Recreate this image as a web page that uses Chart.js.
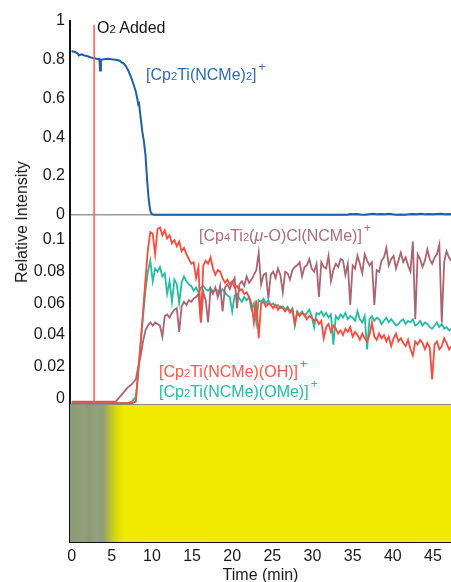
<!DOCTYPE html>
<html>
<head>
<meta charset="utf-8">
<script src="https://cdn.jsdelivr.net/npm/chart.js@4"></script>
<style>
  html, body { margin: 0; padding: 0; background: #fff; }
  #wrap { position: relative; width: 451px; height: 582px; overflow: hidden; font-family: Arial, "Liberation Sans", sans-serif; }
  #chart { position: absolute; left: 0; top: 0; }
  .lbl { position: absolute; white-space: nowrap; font-size: 16px; line-height: 16px; }
  .lbl .s { font-size: 0.7em; }
  .lbl .p { font-size: 0.75em; position: relative; top: -0.75em; margin-left: 2px; }
  #ytitle { left: 22px; top: 222px; transform: translate(-50%, -50%) rotate(-90deg); color: #1a1a1a; font-size: 16px; }
</style>
</head>
<body>
<div id="wrap">
  <canvas id="chart" width="451" height="582"></canvas>
  <div class="lbl" id="ytitle">Relative Intensity</div>
  <div class="lbl" style="left:97px;top:20px;color:#151515">O<span class="s">2</span> Added</div>
  <div class="lbl" style="left:146px;top:67px;color:#2d6cb4">[Cp<span class="s">2</span>Ti(NCMe)<span class="s">2</span>]<span class="p">+</span></div>
  <div class="lbl" style="left:199px;top:228px;color:#b06a78">[Cp<span class="s">4</span>Ti<span class="s">2</span>(<i>&mu;</i>-O)Cl(NCMe)]<span class="p">+</span></div>
  <div class="lbl" style="left:159px;top:364px;color:#ff5545">[Cp<span class="s">2</span>Ti(NCMe)(OH)]<span class="p">+</span></div>
  <div class="lbl" style="left:159px;top:384px;color:#1fbf9f">[Cp<span class="s">2</span>Ti(NCMe)(OMe)]<span class="p">+</span></div>
</div>
<script>
// time axis (min)
const xTicks = [0, 5, 10, 15, 20, 25, 30, 35, 40, 45];
const topTicks = [0, 0.2, 0.4, 0.6, 0.8, 1];
const midTicks = [0, 0.02, 0.04, 0.06, 0.08, 0.1];
const o2AddedAt = 2.8;

// [Cp2Ti(NCMe)2]+
const blueTime = [0, 0.4, 0.7, 0.9, 1.2, 1.6, 2.0, 2.4, 2.8, 3.2,
  3.45, 3.55, 3.65, 4.0, 4.5, 5.0, 5.5, 6.0, 6.2, 6.5,
  6.8, 7.1, 7.4, 7.7, 8.0, 8.2, 8.3, 8.4, 8.6, 8.8,
  9.0, 9.2, 9.4, 9.6, 9.8, 10.0, 10.3, 20, 30, 34.3,
  34.7, 35.1, 35.5, 36.0, 36.5, 37.0, 37.5, 38.0, 38.5, 39.0,
  39.5, 40.0, 40.5, 41.0, 41.5, 42.0, 42.5, 43.0, 43.5, 44.0,
  44.5, 45.0, 45.5, 46.0, 46.5, 47.0, 47.3];
const blueValues = [0.845, 0.84, 0.835, 0.822, 0.828, 0.822, 0.818, 0.812, 0.808, 0.804,
  0.805, 0.745, 0.80, 0.803, 0.805, 0.802, 0.800, 0.795, 0.788, 0.78,
  0.765, 0.74, 0.71, 0.675, 0.635, 0.595, 0.57, 0.575, 0.5, 0.43,
  0.38, 0.31, 0.18, 0.08, 0.02, 0.003, 0, 0, 0, 0,
  0.004, 0.002, 0.004, 0.001, 0, 0.003, 0.005, 0.002, 0.004, 0.003,
  0.005, 0.002, 0, 0.001, 0, 0.003, 0.004, 0.002, 0.005, 0.003,
  0.004, 0.002, 0.004, 0.005, 0.002, 0.004, 0.003];

// shared time base of the lower panel
const midTime = [0, 1, 2, 3, 4, 5, 5.5, 6, 6.5, 7, 7.5, 8, 8.3, 8.6, 8.9, 9.2, 9.5, 9.8,
  10.1, 10.4, 10.7, 11.0, 11.3, 11.6, 11.9, 12.2, 12.5, 12.8,
  13.1, 13.4, 13.7, 14.0, 14.3, 14.6, 14.9, 15.2, 15.5, 15.8,
  16.1, 16.4, 16.7, 17.0, 17.3, 17.6, 17.9, 18.2, 18.5, 18.8,
  19.1, 19.4, 19.7, 20.0, 20.3, 20.6, 20.9, 21.2, 21.5, 21.8,
  22.1, 22.4, 22.7, 23.0, 23.3, 23.6, 23.9, 24.2, 24.5, 24.8,
  25.1, 25.4, 25.7, 26.0, 26.3, 26.6, 26.9, 27.2, 27.5, 27.8,
  28.1, 28.4, 28.7, 29.0, 29.3, 29.6, 29.9, 30.2, 30.5, 30.8,
  31.1, 31.4, 31.7, 32.0, 32.3, 32.6, 32.9, 33.2, 33.5, 33.8,
  34.1, 34.4, 34.7, 35.0, 35.3, 35.6, 35.9, 36.2, 36.5, 36.8,
  37.1, 37.4, 37.7, 38.0, 38.3, 38.6, 38.9, 39.2, 39.5, 39.8,
  40.1, 40.4, 40.7, 41.0, 41.3, 41.6, 41.9, 42.2, 42.5, 42.8,
  43.1, 43.4, 43.7, 44.0, 44.3, 44.6, 44.9, 45.2, 45.5, 45.8,
  46.1, 46.4, 46.7, 47.0, 47.3];

// [Cp2Ti(NCMe)(OH)]+
const ohValues = [-0.003, -0.003, -0.003, -0.003, -0.003, -0.003, -0.003, -0.003, -0.003, -0.003, -0.003,
  -0.002, 0.017, 0.036, 0.055, 0.075, 0.094, 0.105,
  0.104, 0.091, 0.107, 0.108, 0.103, 0.106, 0.101, 0.103, 0.098, 0.100,
  0.096, 0.099, 0.093, 0.095, 0.091, 0.088, 0.085, 0.086, 0.076, 0.083,
  0.048, 0.084, 0.087, 0.085, 0.089, 0.082, 0.078, 0.081, 0.080, 0.076,
  0.073, 0.075, 0.072, 0.074, 0.070, 0.071, 0.068, 0.069, 0.066, 0.067,
  0.064, 0.060, 0.048, 0.062, 0.038, 0.060, 0.061, 0.058, 0.060, 0.059,
  0.057, 0.059, 0.056, 0.058, 0.057, 0.055, 0.057, 0.054, 0.056, 0.047,
  0.054, 0.052, 0.054, 0.053, 0.050, 0.052, 0.051, 0.049, 0.050, 0.047,
  0.049, 0.038, 0.045, 0.047, 0.042, 0.046, 0.044, 0.041, 0.043, 0.040,
  0.044, 0.042, 0.045, 0.039, 0.042, 0.040, 0.037, 0.041, 0.038, 0.036,
  0.040, 0.048, 0.039, 0.037, 0.041, 0.038, 0.040, 0.036, 0.039, 0.033,
  0.038, 0.041, 0.036, 0.038, 0.035, 0.033, 0.037, 0.031, 0.027, 0.036,
  0.034, 0.037, 0.035, 0.031, 0.035, 0.032, 0.012, 0.034, 0.036, 0.031,
  0.033, 0.038, 0.035, 0.031, 0.033];

// [Cp2Ti(NCMe)(OMe)]+
const omeValues = [-0.003, -0.003, -0.003, -0.003, -0.003, -0.003, -0.003, -0.003, -0.003, -0.003,
  -0.002, 0.001, 0.016, 0.034, 0.052, 0.068, 0.080, 0.087,
  0.074, 0.082, 0.080, 0.083, 0.077, 0.079, 0.066, 0.074, 0.061, 0.075,
  0.072, 0.060, 0.073, 0.077, 0.074, 0.072, 0.071, 0.068, 0.070, 0.067,
  0.070, 0.071, 0.069, 0.068, 0.070, 0.067, 0.069, 0.068, 0.066, 0.069,
  0.067, 0.065, 0.064, 0.055, 0.065, 0.066, 0.063, 0.061, 0.064, 0.062,
  0.064, 0.056, 0.060, 0.048, 0.062, 0.061, 0.063, 0.060, 0.062, 0.059,
  0.060, 0.058, 0.059, 0.057, 0.058, 0.056, 0.058, 0.055, 0.057, 0.046,
  0.055, 0.053, 0.055, 0.052, 0.054, 0.056, 0.052, 0.045, 0.054, 0.053,
  0.055, 0.052, 0.054, 0.051, 0.053, 0.034, 0.052, 0.050, 0.053, 0.051,
  0.054, 0.050, 0.052, 0.051, 0.049, 0.055, 0.050, 0.048, 0.052, 0.031,
  0.050, 0.052, 0.049, 0.051, 0.050, 0.047, 0.049, 0.051, 0.048, 0.050,
  0.048, 0.046, 0.047, 0.049, 0.050, 0.047, 0.049, 0.048, 0.050, 0.046,
  0.047, 0.049, 0.046, 0.048, 0.047, 0.045, 0.044, 0.046, 0.048, 0.045,
  0.047, 0.044, 0.045, 0.043, 0.044];

// [Cp4Ti2(mu-O)Cl(NCMe)]+
const dimerValues = [-0.002, -0.002, -0.002, -0.002, -0.002, -0.002, -0.002,
  0.001, 0.004, 0.007, 0.009, 0.012, 0.020, 0.027, 0.036, 0.043, 0.046, 0.048,
  0.046, 0.048, 0.047, 0.046, 0.039, 0.052, 0.053, 0.051, 0.054, 0.056,
  0.057, 0.042, 0.058, 0.061, 0.059, 0.062, 0.061, 0.063, 0.064, 0.066,
  0.048, 0.067, 0.062, 0.048, 0.069, 0.066, 0.070, 0.064, 0.071, 0.055,
  0.070, 0.072, 0.069, 0.073, 0.076, 0.057, 0.072, 0.074, 0.071, 0.077,
  0.073, 0.075, 0.078, 0.081, 0.092, 0.072, 0.078, 0.079, 0.063, 0.078,
  0.080, 0.076, 0.082, 0.078, 0.067, 0.080, 0.079, 0.075, 0.081, 0.083,
  0.084, 0.086, 0.077, 0.083, 0.084, 0.088, 0.082, 0.080, 0.085, 0.064,
  0.086, 0.083, 0.082, 0.090, 0.074, 0.081, 0.085, 0.083, 0.088, 0.087,
  0.078, 0.085, 0.059, 0.084, 0.082, 0.090, 0.085, 0.079, 0.091, 0.087,
  0.084, 0.086, 0.059, 0.081, 0.080, 0.087, 0.089, 0.095, 0.084, 0.088,
  0.090, 0.082, 0.087, 0.092, 0.086, 0.089, 0.084, 0.080, 0.099, 0.050,
  0.091, 0.088, 0.083, 0.087, 0.094, 0.088, 0.085, 0.089, 0.091, 0.097,
  0.048, 0.086, 0.093, 0.089, 0.087];

// solution colour band (bottom strip), stops in minutes
const bandStopTime = [-0.2, 1.5, 2.2, 3.0, 3.9, 4.4, 5.0, 5.8, 6.6, 47.25];
const bandStopColor = ['#8c9b78', '#91a07a', '#8b9a76', '#92a27a', '#8fa077', '#a8b052', '#c3ca22', '#dfe000', '#f0e900', '#f2ea00'];

const X_MIN = -0.2, X_MAX = 47.25;
const font = { family: 'Arial, "Liberation Sans", sans-serif', size: 16 };
const pts = (xs, ys) => xs.map((x, i) => ({ x, y: ys[i] }));

const bandFill = (ctx) => {
  const chart = ctx.chart;
  const xs = chart.scales.x;
  if (!chart.chartArea || !xs) return '#f2ea00';
  const x0 = xs.getPixelForValue(X_MIN), x1 = xs.getPixelForValue(X_MAX);
  const g = chart.ctx.createLinearGradient(x0, 0, x1, 0);
  bandStopTime.forEach((t, i) => g.addColorStop((t - X_MIN) / (X_MAX - X_MIN), bandStopColor[i]));
  return g;
};

const yAxis = (ticks, extra) => Object.assign({
  position: 'left',
  stack: 'panels',
  border: { display: true, color: '#111', width: 2 },
  grid: { display: false, drawTicks: false },
  ticks: { color: '#1a1a1a', font, padding: 5, autoSkip: false, callback: (v) => String(v) },
  afterBuildTicks: (s) => { s.ticks = ticks.map((v) => ({ value: v })); },
  afterFit: (s) => { s.width = 70; },
}, extra);

new Chart(document.getElementById('chart'), {
  type: 'line',
  data: {
    datasets: [
      { data: pts(blueTime, blueValues), yAxisID: 'yTop', borderColor: '#1f5ea8', borderWidth: 2, order: 1 },
      { data: pts([o2AddedAt, o2AddedAt], [-0.02, 0.98]), yAxisID: 'yTop', borderColor: '#ff5a4a', borderWidth: 1.5, order: 0 },
      { data: pts([o2AddedAt, o2AddedAt], [-0.01, 0.12]), yAxisID: 'yMid', borderColor: '#ff5a4a', borderWidth: 1.5, order: 0 },
      { data: pts(midTime, ohValues), yAxisID: 'yMid', borderColor: '#fa4b3c', borderWidth: 1.8, order: 1 },
      { data: pts(midTime, dimerValues), yAxisID: 'yMid', borderColor: '#ad6470', borderWidth: 1.8, order: 2 },
      { data: pts(midTime, omeValues), yAxisID: 'yMid', borderColor: '#1fbf9f', borderWidth: 1.8, order: 3 },
      { data: pts([X_MIN, X_MAX], [1, 1]), yAxisID: 'yBand', borderColor: '#8a8a8a', borderWidth: 2, fill: 'start', backgroundColor: bandFill, order: 10 },
    ],
  },
  options: {
    responsive: false,
    animation: false,
    layout: { padding: { top: 21, right: 0, bottom: 0, left: 0 } },
    elements: { point: { radius: 0 }, line: { tension: 0 } },
    plugins: { legend: { display: false }, tooltip: { enabled: false } },
    scales: {
      x: {
        type: 'linear', min: X_MIN, max: X_MAX, position: 'bottom',
        border: { display: true, color: '#111', width: 2 },
        grid: { display: false, drawTicks: false },
        ticks: { color: '#1a1a1a', font, padding: 5, autoSkip: false },
        title: { display: true, text: 'Time (min)', color: '#1a1a1a', font: { ...font, lineHeight: 0.8 }, padding: 0 },
        afterBuildTicks: (s) => { s.ticks = xTicks.map((v) => ({ value: v })); },
        afterFit: (s) => { s.height = 40; },
      },
      yTop: yAxis(topTicks, {
        min: -0.0168, max: 1, stackWeight: 197, weight: 3,
        grid: {
          display: true, drawTicks: false, lineWidth: 1.5,
          color: (c) => (c.tick && c.tick.value === 0 ? '#9a9a9a' : 'rgba(0,0,0,0)'),
        },
      }),
      yMid: yAxis(midTicks, { min: -0.0035, max: 0.1139, stackWeight: 186, weight: 2 }),
      yBand: yAxis([], { min: 0, max: 1, stackWeight: 138, weight: 1, ticks: { display: false } }),
    },
  },
});
</script>
</body>
</html>
